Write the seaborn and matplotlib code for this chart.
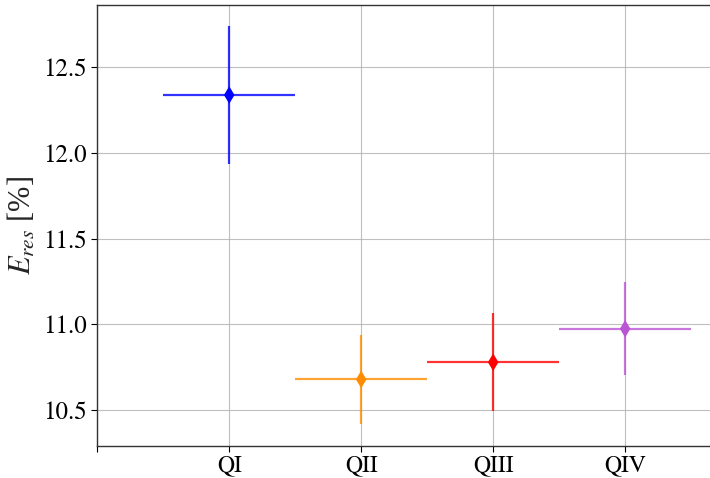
import pandas as pd
import matplotlib.pyplot as plt
import seaborn as sns

quarters = ['QI', 'QII', 'QIII', 'QIV']
e_res = [12.335, 10.68, 10.78, 10.975]
e_err = [0.40, 0.26, 0.285, 0.27]
x_err = [0.5, 0.5, 0.5, 0.5]
colors = ['blue', 'darkorange', 'red', 'mediumorchid']

df = pd.DataFrame({'quarter': quarters, 'pos': range(1, len(quarters) + 1),
                   'e_res': e_res, 'err': e_err, 'xerr': x_err})

sns.set_style('ticks')
plt.rcParams['font.family'] = ['STIXGeneral', 'Liberation Serif', 'DejaVu Serif']
plt.rcParams['mathtext.fontset'] = 'stix'

fig = plt.figure(figsize=(7.1, 4.78), dpi=100)
# axes run slightly past the right edge of the picture, as in the reference
ax = fig.add_axes([0.137, 0.066, 0.868, 0.924])

for i, row in df.iterrows():
    ax.errorbar(row['pos'], row['e_res'], yerr=row['err'], xerr=row['xerr'],
                fmt='none', ecolor=colors[i], elinewidth=1.6, alpha=0.8, zorder=3)
sns.scatterplot(data=df, x='pos', y='e_res', hue='quarter', palette=colors,
                marker='d', s=80, edgecolor='none', legend=False, ax=ax, zorder=4)

ax.set_xlim(0, 4.67)
ax.set_ylim(10.29, 12.86)
ax.set_xticks(range(0, len(quarters) + 1))
ax.set_xticklabels([''] + quarters)
ax.set_yticks([10.5, 11.0, 11.5, 12.0, 12.5])
ax.grid(True, color='#b0b0b0', linewidth=0.8, alpha=0.8)
ax.set_axisbelow(True)
ax.tick_params(axis='y', labelsize=18, direction='out', length=4, colors='black')
ax.tick_params(axis='x', labelsize=17, direction='out', length=4, pad=2, colors='black')
for s in ax.spines.values():
    s.set_color('#333333')
    s.set_linewidth(1.0)
ax.spines['right'].set_visible(False)
ax.set_xlabel('')
ax.set_ylabel(r'$E_{res}$ [%]', fontsize=22, family=['Liberation Serif', 'DejaVu Serif'])

plt.savefig('out.png', dpi=100)
plt.close()
